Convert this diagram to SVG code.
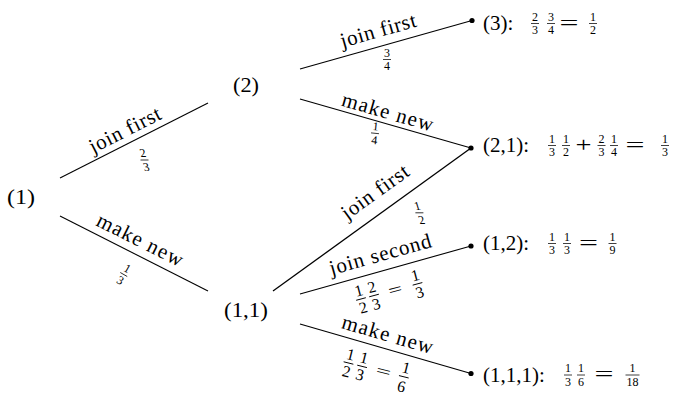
<svg xmlns="http://www.w3.org/2000/svg" width="674" height="395" viewBox="0 0 674 395">
<style>
text{font-family:'Liberation Serif','Times New Roman','DejaVu Serif',serif;fill:#000}
.t{font-size:21px}
.n{font-size:21px}
.el{font-size:21px;text-anchor:middle}
.f{font-size:12px;text-anchor:middle}
.g{font-size:16px;text-anchor:middle}
.m{text-anchor:middle}
.e{stroke:#000;stroke-width:1.1;fill:none}
.b{stroke:#000;stroke-width:0.75}
.b2{stroke:#000;stroke-width:0.9}
.d{fill:#000}
</style>
<rect width="674" height="395" fill="#fff"/>

<g id="connectors">
  <g id="e-1-2">
    <line class="e" x1="60" y1="178" x2="208" y2="103"/>
    <text class="el" x="128" y="136" textLength="78" transform="rotate(-26.9 128 136)">join first</text>
    <g transform="translate(144.5,160) skewX(14)"><text class="f" y="-3">2</text><line class="b" x1="-4" x2="4"/><text class="f" y="10.8">3</text></g>
  </g>
  <g id="e-1-11">
    <line class="e" x1="60" y1="216" x2="208" y2="291"/>
    <text class="el" x="137" y="246" textLength="94" transform="rotate(26.7 137 246)">make new</text>
    <g transform="translate(123.75,274.5) rotate(30)"><text class="f" y="-3">1</text><line class="b" x1="-4" x2="4"/><text class="f" y="10.8">3</text></g>
  </g>
  <g id="e-2-3">
    <line class="e" x1="300" y1="69" x2="472" y2="20.5"/>
    <text class="el" x="380" y="37" textLength="78" transform="rotate(-15.9 380 37)">join first</text>
    <g transform="translate(387,59.5)"><text class="f" y="-3">3</text><line class="b" x1="-4" x2="4"/><text class="f" y="10.8">4</text></g>
  </g>
  <g id="e-2-21">
    <line class="e" x1="300" y1="99" x2="471" y2="148"/>
    <text class="el" x="385.8" y="118.5" textLength="94" transform="rotate(16 385.8 118.5)">make new</text>
    <g transform="translate(375,133.3) rotate(6)"><text class="f" y="-3">1</text><line class="b" x1="-4" x2="4"/><text class="f" y="10.8">4</text></g>
  </g>
  <g id="e-11-21">
    <line class="e" x1="273" y1="291" x2="471" y2="148" style="stroke-width:1.3"/>
    <text class="el" x="379" y="197.4" textLength="78" transform="rotate(-35.8 379 197.4)">join first</text>
    <g transform="translate(419.4,212.8) skewX(17)"><text class="f" y="-3">1</text><line class="b" x1="-4" x2="4"/><text class="f" y="10.8">2</text></g>
  </g>
  <g id="e-11-12">
    <line class="e" x1="300" y1="294" x2="471" y2="246"/>
    <text class="el" x="382" y="261" textLength="105" transform="rotate(-15.7 382 261)">join second</text>
    <g transform="translate(361,299) rotate(-15)">
      <g><text class="g" y="-3.5">1</text><line class="b2" x1="-5" x2="5"/><text class="g" y="14.1">2</text></g>
      <g transform="translate(13.5,0)"><text class="g" y="-3.5">2</text><line class="b2" x1="-5" x2="5"/><text class="g" y="14.1">3</text></g>
      <text class="g" x="35.5" y="5" textLength="14" lengthAdjust="spacingAndGlyphs">=</text>
      <g transform="translate(58.5,0)"><text class="g" y="-3.5">1</text><line class="b2" x1="-5" x2="5"/><text class="g" y="14.1">3</text></g>
    </g>
  </g>
  <g id="e-11-111">
    <line class="e" x1="300" y1="324" x2="471" y2="373.5"/>
    <text class="el" x="385.7" y="341" textLength="94" transform="rotate(16.1 385.7 341)">make new</text>
    <g transform="translate(348.5,363) rotate(14)">
      <g><text class="g" y="-3.5">1</text><line class="b2" x1="-5" x2="5"/><text class="g" y="14.1">2</text></g>
      <g transform="translate(14,0)"><text class="g" y="-3.5">1</text><line class="b2" x1="-5" x2="5"/><text class="g" y="14.1">3</text></g>
      <text class="g" x="36" y="5" textLength="15" lengthAdjust="spacingAndGlyphs">=</text>
      <g transform="translate(57,0)"><text class="g" y="-4">1</text><line class="b2" x1="-5" x2="5"/><text class="g" y="15.5">6</text></g>
    </g>
  </g>
</g>

<g id="node-1"><text class="n" x="7" y="204" textLength="28" lengthAdjust="spacingAndGlyphs">(1)</text></g>
<g id="node-2"><text class="n" x="233" y="92" textLength="26" lengthAdjust="spacingAndGlyphs">(2)</text></g>
<g id="node-11"><text class="n" x="224" y="317" textLength="44" lengthAdjust="spacingAndGlyphs">(1,1)</text></g>

<g id="leaf-3">
  <circle class="d" cx="472" cy="20.5" r="2.6"/>
  <text class="t" x="483" y="30">(3):</text>
  <g transform="translate(535,23.5)"><text class="f" y="-3">2</text><line class="b" x1="-4" x2="4"/><text class="f" y="10.8">3</text></g>
  <g transform="translate(551,23.5)"><text class="f" y="-3">3</text><line class="b" x1="-4" x2="4"/><text class="f" y="10.8">4</text></g>
  <text class="t m" x="569" y="29.5" textLength="19" lengthAdjust="spacingAndGlyphs">=</text>
  <g transform="translate(593,23.5)"><text class="f" y="-3">1</text><line class="b" x1="-4" x2="4"/><text class="f" y="10.8">2</text></g>
</g>

<g id="leaf-21">
  <circle class="d" cx="471" cy="148" r="2.6"/>
  <text class="t" x="483" y="152">(2,1):</text>
  <g transform="translate(552,145.5)"><text class="f" y="-3">1</text><line class="b" x1="-4" x2="4"/><text class="f" y="10.8">3</text></g>
  <g transform="translate(566,145.5)"><text class="f" y="-3">1</text><line class="b" x1="-4" x2="4"/><text class="f" y="10.8">2</text></g>
  <text class="t m" x="583.5" y="152" textLength="16" lengthAdjust="spacingAndGlyphs">+</text>
  <g transform="translate(601.5,145.5)"><text class="f" y="-3">2</text><line class="b" x1="-4" x2="4"/><text class="f" y="10.8">3</text></g>
  <g transform="translate(614,145.5)"><text class="f" y="-3">1</text><line class="b" x1="-4" x2="4"/><text class="f" y="10.8">4</text></g>
  <text class="t m" x="635" y="151.5" textLength="19" lengthAdjust="spacingAndGlyphs">=</text>
  <g transform="translate(665,145.5)"><text class="f" y="-3">1</text><line class="b" x1="-4" x2="4"/><text class="f" y="10.8">3</text></g>
</g>

<g id="leaf-12">
  <circle class="d" cx="471" cy="246" r="2.6"/>
  <text class="t" x="483" y="250">(1,2):</text>
  <g transform="translate(552,243.5)"><text class="f" y="-3">1</text><line class="b" x1="-4" x2="4"/><text class="f" y="10.8">3</text></g>
  <g transform="translate(567,243.5)"><text class="f" y="-3">1</text><line class="b" x1="-4" x2="4"/><text class="f" y="10.8">3</text></g>
  <text class="t m" x="588.5" y="249.5" textLength="19" lengthAdjust="spacingAndGlyphs">=</text>
  <g transform="translate(612.5,243.5)"><text class="f" y="-3">1</text><line class="b" x1="-4" x2="4"/><text class="f" y="10.8">9</text></g>
</g>

<g id="leaf-111">
  <circle class="d" cx="471" cy="373.5" r="2.6"/>
  <text class="t" x="483" y="382">(1,1,1):</text>
  <g transform="translate(568,375)"><text class="f" y="-3">1</text><line class="b" x1="-4" x2="4"/><text class="f" y="10.8">3</text></g>
  <g transform="translate(581,375)"><text class="f" y="-3">1</text><line class="b" x1="-4" x2="4"/><text class="f" y="10.8">6</text></g>
  <text class="t m" x="604" y="381" textLength="19" lengthAdjust="spacingAndGlyphs">=</text>
  <g transform="translate(632.5,375)"><text class="f" y="-3">1</text><line class="b" x1="-7" x2="7"/><text class="f" y="10.8">18</text></g>
</g>
</svg>
